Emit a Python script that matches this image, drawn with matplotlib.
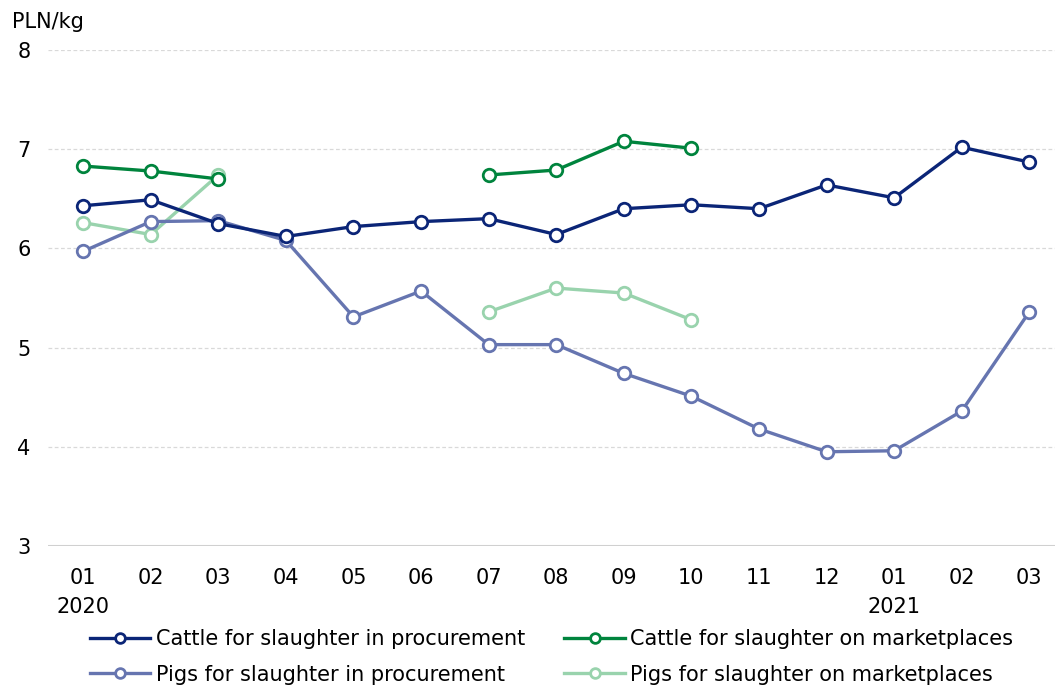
import numpy as np
import matplotlib.pyplot as plt
from matplotlib.lines import Line2D

plt.rcParams['font.family'] = ['DejaVu Sans']

months = ['01', '02', '03', '04', '05', '06', '07', '08', '09', '10', '11', '12', '01', '02', '03']
nan = np.nan
cattle_proc = [6.43, 6.49, 6.25, 6.12, 6.22, 6.27, 6.30, 6.14, 6.40, 6.44, 6.40, 6.64, 6.51, 7.02, 6.87]
cattle_market = [6.83, 6.78, 6.70, nan, nan, nan, 6.74, 6.79, 7.08, 7.01, nan, nan, nan, nan, nan]
pigs_proc = [5.97, 6.27, 6.28, 6.08, 5.31, 5.57, 5.03, 5.03, 4.74, 4.51, 4.18, 3.95, 3.96, 4.36, 5.36]
pigs_market = [6.26, 6.14, 6.74, nan, nan, nan, 5.36, 5.60, 5.55, 5.28, nan, nan, nan, nan, nan]

series = [
    ('Cattle for slaughter in procurement', cattle_proc, '#0b2577'),
    ('Cattle for slaughter on marketplaces', cattle_market, '#00843d'),
    ('Pigs for slaughter in procurement', pigs_proc, '#6675b0'),
    ('Pigs for slaughter on marketplaces', pigs_market, '#99d3ad'),
]

fig = plt.figure(figsize=(10.55, 6.86), dpi=100)
ax = fig.add_axes([48 / 1055, 1 - 546 / 686, 1007 / 1055, 496 / 686])

x = np.arange(len(months))
order = [1, 0, 3, 2]
for i in order:
    label, vals, col = series[i]
    ax.plot(x, vals, color=col, lw=2.4, marker='o', ms=9, mfc='white',
            mec=col, mew=2.0, zorder=3 + (4 - i) * 0.1, solid_capstyle='round')

ax.set_ylim(3, 8)
ax.set_xlim(-0.52, 14.38)
ax.set_yticks([3, 4, 5, 6, 7, 8])
ax.set_xticks(x)
ax.set_xticklabels(months)
ax.tick_params(axis='both', length=0, labelsize=15, colors='black')
ax.tick_params(axis='x', pad=16)
ax.tick_params(axis='y', pad=22)
for lab in ax.get_yticklabels():
    lab.set_horizontalalignment('left')
for s in ax.spines.values():
    s.set_visible(False)
ax.grid(axis='y', color='#d9d9d9', ls=(0, (3, 2)), lw=0.9)
ax.axhline(3, color='#d0d0d0', lw=2.2, zorder=2)
ax.set_axisbelow(True)

fig.text(12 / 1055, 1 - 22 / 686, 'PLN/kg', fontsize=15, va='center', ha='left')
ax.text(0, -0.102, '2020', transform=ax.get_xaxis_transform(), ha='center', va='top', fontsize=15)
ax.text(12, -0.102, '2021', transform=ax.get_xaxis_transform(), ha='center', va='top', fontsize=15)

handles = [Line2D([0], [0], color=c, lw=2.4, marker='o', ms=7, mfc='white', mec=c, mew=2.0)
           for _, _, c in series]
labels = [s[0] for s in series]
leg = fig.legend([handles[0], handles[2], handles[1], handles[3]],
                 [labels[0], labels[2], labels[1], labels[3]],
                 ncol=2, loc='upper left', bbox_to_anchor=(90 / 1055, 1 - 629 / 686),
                 frameon=False, fontsize=15, handlelength=2.9, handletextpad=0.25,
                 columnspacing=1.9, labelspacing=0.75, borderpad=0, borderaxespad=0)

fig.savefig('out.png', dpi=100)
